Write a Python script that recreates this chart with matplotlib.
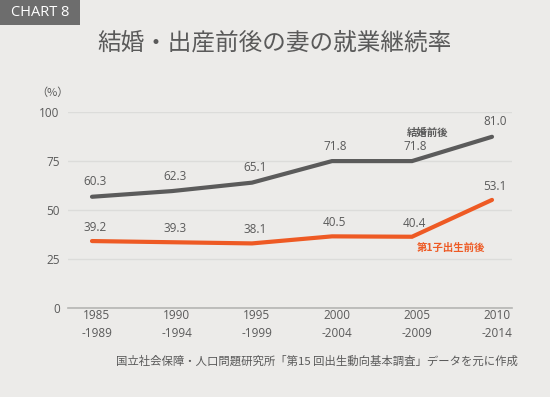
import matplotlib
matplotlib.use("Agg")
import matplotlib.pyplot as plt
from matplotlib.patches import Rectangle

plt.rcParams['font.family'] = ['Open Sans', 'Noto Sans CJK JP', 'DejaVu Sans']

# data
periods = ['1985\n-1989', '1990\n-1994', '1995\n-1999',
           '2000\n-2004', '2005\n-2009', '2010\n-2014']
marriage_line = [56.6, 59.5, 63.8, 74.8, 74.8, 87.2]   # drawn positions
birth_line = [34.0, 33.4, 32.8, 36.4, 36.2, 55.0]
marriage_labels = ['60.3', '62.3', '65.1', '71.8', '71.8', '81.0']
birth_labels = ['39.2', '39.3', '38.1', '40.5', '40.4', '53.1']
y_ticks = [0, 25, 50, 75, 100]

BG = '#ecebe9'
GRAY = '#5b5b5b'
ORANGE = '#ee5a24'
TEXT = '#5a5a5a'
CJK = ['Noto Sans CJK JP', 'DejaVu Sans']

fig = plt.figure(figsize=(5.5, 3.97), dpi=100, facecolor=BG)

# "CHART 8" tag
fig.patches.append(Rectangle((0, 1 - 25 / 397), 80 / 550, 25 / 397,
                             transform=fig.transFigure, facecolor='#6d6d6d',
                             edgecolor='none'))
fig.text(40 / 550, 1 - 13 / 397, 'CHART 8', color='white', fontsize=10.5,
         ha='center', va='center')

fig.text(275 / 550, 1 - 43 / 397, '結婚・出産前後の妻の就業継続率',
         color=TEXT, fontsize=17, ha='center', va='center', family=CJK)

ax = fig.add_axes([68 / 550, 1 - 307.7 / 397, 444 / 550, 196 / 397])
ax.set_facecolor(BG)

x = list(range(len(periods)))
ax.plot(x, marriage_line, color=GRAY, lw=3, solid_joinstyle='miter',
        solid_capstyle='round', zorder=3)
ax.plot(x, birth_line, color=ORANGE, lw=3, solid_joinstyle='miter',
        solid_capstyle='round', zorder=3)

for xi, v, lab in zip(x, marriage_line, marriage_labels):
    ax.annotate(lab, (xi, v), xytext=(2, 6), textcoords='offset points',
                ha='center', va='bottom', fontsize=8.5, color=TEXT)
for xi, v, lab in zip(x, birth_line, birth_labels):
    ax.annotate(lab, (xi, v), xytext=(2, 5), textcoords='offset points',
                ha='center', va='bottom', fontsize=8.5, color=TEXT)

ax.text(4.2, 89.1, '結婚前後', color=GRAY, fontsize=7.5, family=CJK,
        fontweight='bold', ha='center', va='center')
ax.text(4.49, 30.6, '第1子出生前後', color=ORANGE, fontsize=7.5, family=CJK,
        fontweight='bold', ha='center', va='center')

ax.set_xlim(-0.3, 5.25)
ax.set_ylim(0, 100)
ax.set_yticks(y_ticks)
ax.set_yticklabels([str(t) for t in y_ticks])
ax.set_xticks([xi + 0.06 for xi in x])
ax.set_xticklabels(periods, linespacing=1.45)
ax.tick_params(length=0, colors=TEXT, labelsize=8.5)
ax.tick_params(axis='y', pad=6)
ax.tick_params(axis='x', pad=1)
ax.grid(axis='y', color='#dcdcda', lw=1)
ax.set_axisbelow(True)
for s in ['top', 'right', 'left']:
    ax.spines[s].set_visible(False)
ax.spines['bottom'].set_color('#b5b5b3')
ax.spines['bottom'].set_linewidth(1.2)

fig.text(52 / 550, 1 - 93 / 397, '（%）', color=TEXT, fontsize=8,
         ha='center', va='center', family=CJK)

fig.text(518 / 550, 1 - 361 / 397,
         '国立社会保障・人口問題研究所「第15 回出生動向基本調査」データを元に作成',
         color=TEXT, fontsize=8.2, ha='right', va='center', family=CJK)

fig.savefig('out.png', dpi=100, facecolor=BG)
